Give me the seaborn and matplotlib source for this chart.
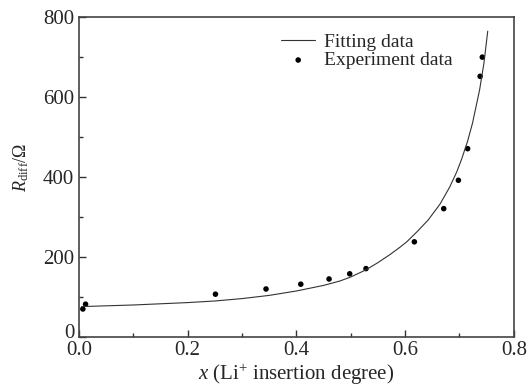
import matplotlib
matplotlib.use("Agg")
import matplotlib.pyplot as plt
import matplotlib.transforms as mtransforms
import seaborn as sns
import pandas as pd
from matplotlib.ticker import MultipleLocator

# --- data ---
exp_x = [0.007, 0.012, 0.251, 0.344, 0.408, 0.460, 0.498, 0.528,
         0.617, 0.671, 0.698, 0.715, 0.738, 0.742]
exp_r = [70, 82, 107, 120, 132, 145, 158, 171,
         238, 321, 392, 471, 652, 700]

fit_x = [0.005, 0.1, 0.2, 0.25, 0.3, 0.35, 0.4, 0.45, 0.48, 0.5, 0.528, 0.55,
         0.572, 0.59, 0.603, 0.621, 0.642, 0.664, 0.682, 0.695, 0.704, 0.715,
         0.724, 0.737, 0.745, 0.752]
fit_r = [76, 80, 86, 90, 96, 104, 115, 129, 140, 150, 168, 186,
         206, 224, 238, 262, 292, 332, 375, 413, 445, 490,
         535, 618, 685, 765]

x_ticks = [0.0, 0.2, 0.4, 0.6, 0.8]
y_ticks = [0, 200, 400, 600, 800]

fit_df = pd.DataFrame({"x": fit_x, "r": fit_r})
exp_df = pd.DataFrame({"x": exp_x, "r": exp_r})

sns.set_style("ticks")
plt.rcParams["font.family"] = ["Liberation Serif", "DejaVu Serif"]
plt.rcParams["mathtext.fontset"] = "custom"
plt.rcParams["mathtext.rm"] = "Liberation Serif"
plt.rcParams["mathtext.it"] = "Liberation Serif:italic"

fig = plt.figure(figsize=(5.27, 3.9), dpi=100)
ax = fig.add_axes([0.150, 0.136, 0.825, 0.820])

sns.lineplot(data=fit_df, x="x", y="r", ax=ax, color="#333333", lw=0.8,
             label="Fitting data", sort=False)
sns.scatterplot(data=exp_df, x="x", y="r", ax=ax, color="black", s=16,
                edgecolor="none", label="Experiment data")

ax.set_xlim(0, 0.8)
ax.set_ylim(0, 800)
ax.set_xticks(x_ticks)
ax.set_yticks(y_ticks)
ax.set_xticklabels([f"{v:.1f}" for v in x_ticks])
ax.xaxis.set_minor_locator(MultipleLocator(0.1))
ax.yaxis.set_minor_locator(MultipleLocator(100))
ax.tick_params(which="both", direction="in", labelsize=15, color="#333333")
ax.tick_params(which="major", length=5, width=1)
ax.tick_params(which="minor", length=3, width=1)
ax.tick_params(axis="x", pad=3)
for s in ax.spines.values():
    s.set_color("#444444")
    s.set_linewidth(1.2)

# nudge the y "0" label up a little so it clears the x "0.0" label
zero_lbl = ax.get_yticklabels()[0]
zero_lbl.set_transform(zero_lbl.get_transform() +
                       mtransforms.ScaledTranslation(0, 4 / 72, fig.dpi_scale_trans))

ax.set_xlabel(r"$x$ (Li$^{+}$ insertion degree)", fontsize=15, labelpad=1)
ax.set_ylabel(r"$R_{\rm diff}$/$\Omega$", fontsize=13)
ax.yaxis.set_label_coords(-0.11, 0.53)

ax.legend(loc="upper left", bbox_to_anchor=(0.447, 0.975), frameon=False,
          fontsize=14, handlelength=1.75, handletextpad=0.45, labelspacing=0.05,
          borderaxespad=0)

fig.savefig("out.png", dpi=100)
